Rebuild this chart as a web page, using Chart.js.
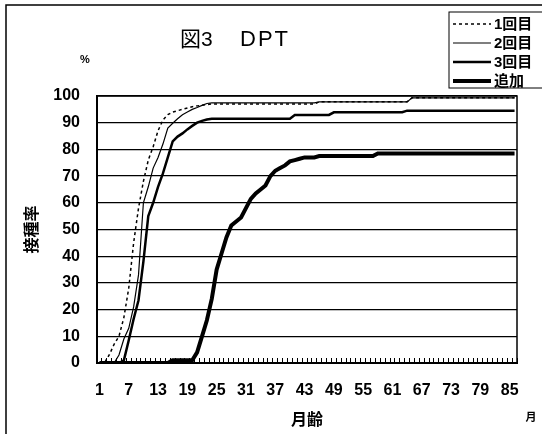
<!DOCTYPE html>
<html>
<head>
<meta charset="utf-8">
<script src="https://cdn.jsdelivr.net/npm/chart.js@4"></script>
<style>
  html, body { margin: 0; padding: 0; background: #fff; }
  canvas { display: block; }
</style>
</head>
<body>
<canvas id="dptChart" width="542" height="434"></canvas>
<script>
const FONT = "'Liberation Sans', 'Noto Sans CJK JP', sans-serif";

// 月齢 (categories)
const months = [1, 2, 3, 4, 5, 6, 7, 8, 9, 10, 11, 12, 13, 14, 15, 16, 17, 18, 19, 20,
    21, 22, 23, 24, 25, 26, 27, 28, 29, 30, 31, 32, 33, 34, 35, 36, 37, 38, 39, 40,
    41, 42, 43, 44, 45, 46, 47, 48, 49, 50, 51, 52, 53, 54, 55, 56, 57, 58, 59, 60,
    61, 62, 63, 64, 65, 66, 67, 68, 69, 70, 71, 72, 73, 74, 75, 76, 77, 78, 79, 80,
    81, 82, 83, 84, 85, 86];
const xTickLabels = ['1', '7', '13', '19', '25', '31', '37', '43', '49', '55', '61', '67', '73', '79', '85'];
const yTicks = [0, 10, 20, 30, 40, 50, 60, 70, 80, 90, 100];

// 接種率 %
const dose1 = [0, 0, 3, 7, 10, 17, 28, 45, 58, 68, 76, 81, 87, 91, 93, 94, 94.5, 95, 95.5, 96,
    96.3, 96.5, 96.8, 97, 97, 97, 97, 97, 97, 97, 97, 97, 97, 97, 97, 97, 97, 97, 97, 97,
    97, 97, 97, 97, 97, 97.8, 97.8, 97.8, 97.8, 97.8, 97.8, 97.8, 97.8, 97.8, 97.8, 97.8, 97.8, 97.8, 97.8, 97.8,
    97.8, 97.8, 97.8, 97.8, 99.3, 99.3, 99.3, 99.3, 99.3, 99.3, 99.3, 99.3, 99.3, 99.3, 99.3, 99.3, 99.3, 99.3, 99.3, 99.3,
    99.3, 99.3, 99.3, 99.3, 99.3, 99.3];
const dose2 = [0, 0, 0, 0, 3, 9, 13, 21, 33, 60, 66, 73, 77, 82, 88, 89.8, 91.5, 93, 94, 95,
    95.7, 96.5, 97.2, 97.4, 97.4, 97.4, 97.4, 97.4, 97.4, 97.4, 97.4, 97.4, 97.4, 97.4, 97.4, 97.4, 97.4, 97.4, 97.4, 97.4,
    97.4, 97.4, 97.4, 97.4, 97.4, 97.8, 97.8, 97.8, 97.8, 97.8, 97.8, 97.8, 97.8, 97.8, 97.8, 97.8, 97.8, 97.8, 97.8, 97.8,
    97.8, 97.8, 97.8, 97.8, 99.3, 99.3, 99.3, 99.3, 99.3, 99.3, 99.3, 99.3, 99.3, 99.3, 99.3, 99.3, 99.3, 99.3, 99.3, 99.3,
    99.3, 99.3, 99.3, 99.3, 99.3, 99.3];
const dose3 = [0, 0, 0, 0, 0, 1, 8.5, 16.5, 23.5, 38, 55, 60, 66, 71, 77, 83, 84.8, 86, 87.5, 88.8,
    90, 90.7, 91.2, 91.5, 91.5, 91.5, 91.5, 91.5, 91.5, 91.5, 91.5, 91.5, 91.5, 91.5, 91.5, 91.5, 91.5, 91.5, 91.5, 91.5,
    92.9, 92.9, 92.9, 92.9, 92.9, 92.9, 92.9, 92.9, 93.9, 93.9, 93.9, 93.9, 93.9, 93.9, 93.9, 93.9, 93.9, 93.9, 93.9, 93.9,
    93.9, 93.9, 93.9, 94.5, 94.5, 94.5, 94.5, 94.5, 94.5, 94.5, 94.5, 94.5, 94.5, 94.5, 94.5, 94.5, 94.5, 94.5, 94.5, 94.5,
    94.5, 94.5, 94.5, 94.5, 94.5, 94.5];
const booster = [0, 0, 0, 0, 0, 0, 0, 0, 0, 0, 0, 0, 0, 0, 0, 1, 1, 1, 1, 1,
    4, 10, 16, 24, 35, 41, 47, 51.5, 53, 54.5, 58, 61.5, 63.5, 65, 66.5, 70, 72, 73, 74, 75.5,
    76, 76.5, 77, 77, 77, 77.5, 77.5, 77.5, 77.5, 77.5, 77.5, 77.5, 77.5, 77.5, 77.5, 77.5, 77.5, 78.5, 78.5, 78.5,
    78.5, 78.5, 78.5, 78.5, 78.5, 78.5, 78.5, 78.5, 78.5, 78.5, 78.5, 78.5, 78.5, 78.5, 78.5, 78.5, 78.5, 78.5, 78.5, 78.5,
    78.5, 78.5, 78.5, 78.5, 78.5, 78.5];

const seriesNames = ['1回目', '2回目', '3回目', '追加'];

// frame, plot border, title and the boxed legend
const decorations = {
    id: 'decorations',
    afterDraw(chart) {
        const ctx = chart.ctx;
        const area = chart.chartArea;
        ctx.save();
        ctx.strokeStyle = '#000';

        // outer frame of the figure
        ctx.lineWidth = 1.5;
        ctx.beginPath();
        ctx.moveTo(6, 434);
        ctx.lineTo(6, 5);
        ctx.lineTo(542, 5);
        ctx.stroke();

        // plot box
        ctx.lineWidth = 1.5;
        ctx.strokeRect(area.left, area.top, area.right - area.left, area.bottom - area.top);

        ctx.fillStyle = '#000';
        ctx.textBaseline = 'middle';
        ctx.textAlign = 'left';
        ctx.font = '21px ' + FONT;
        ctx.fillText('図3', 180, 40);
        ctx.font = '22px ' + FONT;
        ctx.letterSpacing = '2px';
        ctx.fillText('DPT', 240, 40);
        ctx.letterSpacing = '0px';

        ctx.textAlign = 'center';
        ctx.font = 'bold 11px ' + FONT;
        ctx.fillText('%', 85, 60);
        ctx.fillText('月', 531, 418);

        // legend
        ctx.lineWidth = 1;
        ctx.strokeRect(449, 12, 100, 76);
        ctx.textAlign = 'left';
        ctx.font = 'bold 15px ' + FONT;
        chart.data.datasets.forEach((ds, i) => {
            const y = 24 + i * 19;
            ctx.lineWidth = ds.borderWidth;
            ctx.setLineDash(ds.borderDash || []);
            ctx.beginPath();
            ctx.moveTo(453, y);
            ctx.lineTo(491, y);
            ctx.stroke();
            ctx.setLineDash([]);
            ctx.fillText(ds.label, 494, y + 1);
        });
        ctx.restore();
    }
};

const makeSet = (label, data, width, dash) => ({
    label: label,
    data: data,
    borderColor: '#000',
    backgroundColor: '#000',
    borderWidth: width,
    borderDash: dash,
    pointRadius: 0,
    tension: 0,
    fill: false
});

const config = {
    type: 'line',
    data: {
        labels: months,
        datasets: [
            makeSet(seriesNames[0], dose1, 1.5, [3, 3]),
            makeSet(seriesNames[1], dose2, 1.2, []),
            makeSet(seriesNames[2], dose3, 2.5, []),
            makeSet(seriesNames[3], booster, 4, [])
        ]
    },
    options: {
        responsive: false,
        animation: false,
        layout: { padding: { left: 0, right: 25, top: 96, bottom: 0 } },
        plugins: {
            legend: { display: false },
            title: { display: false },
            tooltip: { enabled: false }
        },
        scales: {
            x: {
                type: 'category',
                offset: true,
                afterFit: (scale) => { scale.height = 71; },
                grid: {
                    display: true,
                    offset: true,
                    drawOnChartArea: false,
                    drawTicks: true,
                    tickLength: -5,
                    color: '#000',
                    lineWidth: 1
                },
                border: { display: true, color: '#000', width: 2 },
                ticks: {
                    autoSkip: false,
                    maxRotation: 0,
                    padding: 23,
                    color: '#000',
                    font: { family: FONT, size: 16, weight: 'bold' },
                    callback: (value, index) => xTickLabels.includes(String(months[index])) ? months[index] : ''
                },
                title: {
                    display: true,
                    text: '月齢',
                    color: '#000',
                    font: { family: FONT, size: 16, weight: 'bold' },
                    padding: { top: 0, bottom: 4 }
                }
            },
            y: {
                min: yTicks[0],
                max: yTicks[yTicks.length - 1],
                afterFit: (scale) => { scale.width = 97; },
                ticks: {
                    stepSize: 10,
                    padding: 17,
                    color: '#000',
                    font: { family: FONT, size: 16, weight: 'bold' }
                },
                grid: {
                    color: '#000',
                    lineWidth: 1.3,
                    drawTicks: false
                },
                border: { display: true, color: '#000', width: 2 },
                title: {
                    display: true,
                    text: '接種率',
                    color: '#000',
                    font: { family: FONT, size: 16, weight: 'bold' },
                    padding: { top: 23, bottom: 0 }
                }
            }
        }
    },
    plugins: [decorations]
};

new Chart(document.getElementById('dptChart'), config);
</script>
</body>
</html>
